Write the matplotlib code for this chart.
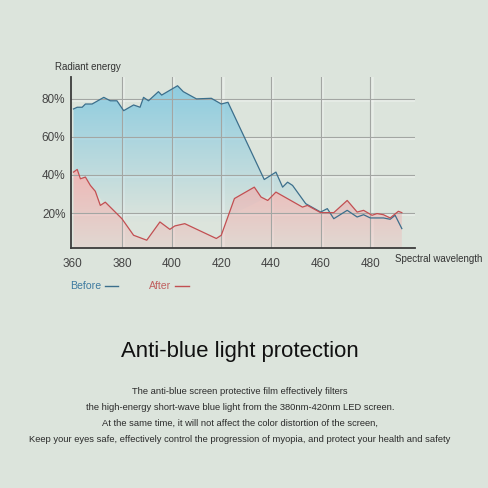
import matplotlib.pyplot as plt
import numpy as np

# wavelength (nm) and radiant energy (%)
before_x = [360.5, 362, 364, 365.3, 368, 372.7, 375.3, 378, 380.7, 384.7, 387.3, 388.7,
            390.7, 394.7, 396, 402.4, 404.7, 410, 416, 420, 422.7, 437.3, 442, 444.7,
            446.7, 448.7, 454, 460, 462.7, 465.3, 470.7, 474.7, 477.3, 480, 485.3, 488,
            490, 492.7]
before_y = [74.7, 75.6, 75.6, 77.3, 77.3, 80.8, 79, 79, 73.8, 76.8, 75.6, 80.8,
            79, 83.8, 82, 86.9, 83.8, 80, 80.3, 77.3, 78.2, 37.6, 41.5, 33.6,
            36.2, 34.5, 24.9, 20.5, 22.3, 17, 21.4, 17.9, 19.1, 17.4, 17.4, 16.7,
            18.8, 11.8]
after_x = [360.5, 362, 363.3, 365.3, 367.3, 369.3, 371.3, 373.3, 380, 384.7, 390, 395.3,
           399.3, 401.3, 405.3, 418, 420, 425.3, 433.3, 436, 438.7, 442, 452.7, 454.7,
           460, 465.3, 470.7, 474.7, 477.3, 480.7, 482.7, 485.3, 488, 491.3, 492.7]
after_y = [41.5, 42.9, 38, 38.9, 34.5, 31.4, 24, 25.7, 17, 8.3, 5.7, 15.3,
           11.4, 13.2, 14.4, 6.6, 8.3, 27.6, 33.6, 28.4, 26.6, 31, 23.1, 24,
           20.2, 20.2, 26.6, 20.5, 21.4, 18.8, 19.7, 19.1, 17.4, 20.9, 20.2]

x_ticks = [360, 380, 400, 420, 440, 460, 480]
y_ticks = [20, 40, 60, 80]

body_lines = [
    "The anti-blue screen protective film effectively filters",
    "the high-energy short-wave blue light from the 380nm-420nm LED screen.",
    "At the same time, it will not affect the color distortion of the screen,",
    "Keep your eyes safe, effectively control the progression of myopia, and protect your health and safety",
]

bg = '#dce4dc'
blue_line = '#3c6f8c'
red_line = '#c24f52'

plt.rcParams['font.family'] = ['Liberation Sans', 'DejaVu Sans']

fig = plt.figure(figsize=(4.88, 4.88), dpi=100, facecolor=bg)
ax = fig.add_axes([71 / 488, 240 / 488, 344 / 488, 171 / 488])
ax.set_facecolor(bg)
ax.set_xlim(359.5, 498)
ax.set_ylim(1.6, 91.5)


def gradient_fill(ax, x, y1, y2, rgb, a_top, a_bot, y_top, y_bot, z):
    poly = ax.fill_between(x, y1, y2, facecolor='none', edgecolor='none')
    ys = np.linspace(0, 1, 256)
    alpha = np.clip(a_bot + (a_top - a_bot) * ys, 0, 1)
    img = np.zeros((256, 1, 4))
    img[:, 0, 0] = rgb[0]
    img[:, 0, 1] = rgb[1]
    img[:, 0, 2] = rgb[2]
    img[:, 0, 3] = alpha
    im = ax.imshow(img, extent=[359.5, 498, y_bot, y_top], origin='lower',
                   aspect='auto', zorder=z, interpolation='bilinear')
    im.set_clip_path(poly.get_paths()[0], transform=ax.transData)


# blue area under the "before" curve, red area under the "after" curve
gradient_fill(ax, before_x, np.interp(before_x, after_x, after_y), before_y,
              (0.52, 0.79, 0.88), 0.9, 0.0, 88, 15, 1)
gradient_fill(ax, after_x, 0, after_y, (0.95, 0.68, 0.68), 0.8, 0.2, 42, 0, 2)

# grid with a light band beside each line
for gx in x_ticks[1:]:
    ax.axvline(gx + 0.5, color='white', lw=1.8, alpha=0.35, zorder=0.5)
    ax.axvline(gx, color='#a3a6a3', lw=0.8, zorder=3)
for gy in y_ticks:
    ax.axhline(gy - 0.6, color='white', lw=1.8, alpha=0.35, zorder=0.5)
    ax.axhline(gy, color='#a3a6a3', lw=0.8, zorder=3)

ax.plot(before_x, before_y, color=blue_line, lw=0.9, zorder=4)
ax.plot(after_x, after_y, color=red_line, lw=0.9, zorder=4)

ax.set_xticks(x_ticks)
ax.set_yticks(y_ticks)
ax.set_yticklabels([str(v) + '%' for v in y_ticks])
ax.tick_params(length=0, labelsize=8.5, colors='#444444')
ax.tick_params(axis='y', pad=4)
ax.tick_params(axis='x', pad=7)
for s in ['top', 'right']:
    ax.spines[s].set_visible(False)
for s in ['left', 'bottom']:
    ax.spines[s].set_color('#3c3c3c')
    ax.spines[s].set_linewidth(1.3)
    ax.spines[s].set_zorder(5)

fig.text(55 / 488, 1 - 67 / 488, 'Radiant energy', fontsize=7, color='#333333',
         va='center', ha='left')
fig.text(395 / 488, 1 - 259 / 488, 'Spectral wavelength', fontsize=7, color='#333333',
         va='center', ha='left')

# legend
fig.text(70 / 488, 1 - 286 / 488, 'Before', fontsize=7.6, color='#3d7aa0', va='center')
fig.add_artist(plt.Line2D([105 / 488, 118 / 488], [1 - 286 / 488] * 2, color=blue_line, lw=1.0))
fig.text(149 / 488, 1 - 286 / 488, 'After', fontsize=7.6, color='#c0605f', va='center')
fig.add_artist(plt.Line2D([175 / 488, 189 / 488], [1 - 286 / 488] * 2, color=red_line, lw=1.0))

fig.text(240 / 488, 1 - 352 / 488, 'Anti-blue light protection', fontsize=15.9,
         color='#111111', ha='center', va='center')
for i, line in enumerate(body_lines):
    fig.text(240 / 488, 1 - (391 + 16 * i) / 488, line, fontsize=6.75,
             color='#2a2a2a', ha='center', va='center')

fig.savefig('out.png', dpi=100, facecolor=bg)
